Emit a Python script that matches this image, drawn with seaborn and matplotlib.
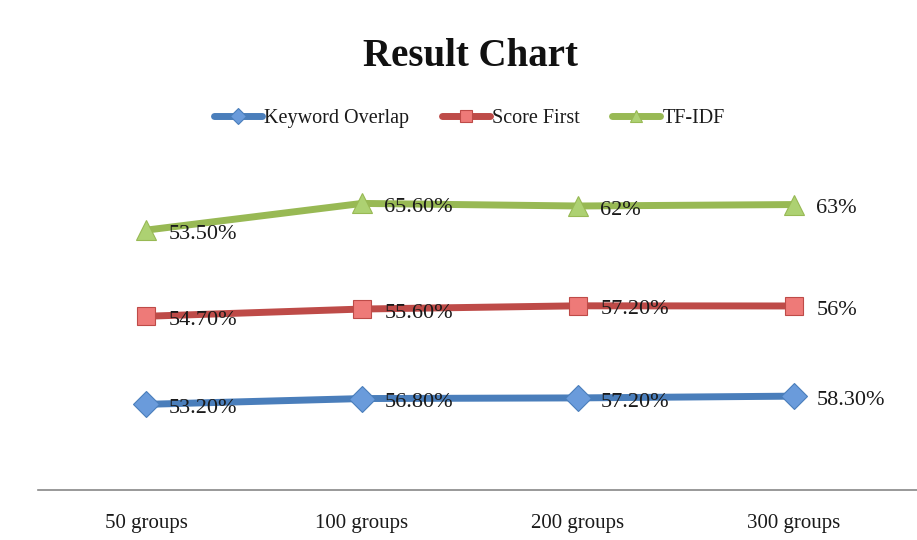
import matplotlib.pyplot as plt
import seaborn as sns
import numpy as np

groups = ["50 groups", "100 groups", "200 groups", "300 groups"]
keyword_overlap = [53.2, 56.8, 57.2, 58.3]
score_first = [54.7, 55.6, 57.2, 56.0]
tf_idf = [53.5, 65.6, 62.0, 63.0]

keyword_labels = ["53.20%", "56.80%", "57.20%", "58.30%"]
score_labels = ["54.70%", "55.60%", "57.20%", "56%"]
tfidf_labels = ["53.50%", "65.60%", "62%", "63%"]


def main():
    sns.set_style("white")
    plt.rcParams['font.family'] = ['Liberation Serif', 'DejaVu Serif']

    fig = plt.figure(figsize=(9.17, 5.4), dpi=100)
    ax = fig.add_axes([38 / 917, 50 / 540, 879 / 917, 322 / 540])

    # stacked line chart: each series sits on top of the previous one
    series = [
        ("Keyword Overlap", keyword_overlap, keyword_labels, "#4A7EBB", "#6A9BDB", "D", 13),
        ("Score First", score_first, score_labels, "#BE4B48", "#EE7A78", "s", 13.5),
        ("TF-IDF", tf_idf, tfidf_labels, "#98B954", "#ADD172", "^", 15),
    ]
    base = np.zeros(len(groups))
    for name, vals, labels, col, fill, mk, ms in series:
        top = base + np.array(vals)
        sns.lineplot(x=groups, y=top, ax=ax, color=col, linewidth=5, sort=False,
                     marker=mk, markersize=ms, markerfacecolor=fill,
                     markeredgecolor=col, markeredgewidth=0.8, label=name)
        for i, lab in enumerate(labels):
            ax.annotate(lab, (i, top[i]), xytext=(16, -3), textcoords="offset points",
                        ha="left", va="center", fontsize=16, color="#1a1a1a")
        base = top

    ax.set_xlim(-0.5, (917 - 146) / 216)
    ax.set_ylim(0, 200)
    ax.set_yticks([])
    ax.set_xlabel("")
    ax.set_ylabel("")
    for s in ["top", "left", "right"]:
        ax.spines[s].set_visible(False)
    ax.spines["bottom"].set_color("#888888")
    ax.spines["bottom"].set_linewidth(1.2)
    ax.tick_params(axis="x", length=0, pad=17, labelsize=15, labelcolor="#1a1a1a")

    leg = ax.legend(loc="center", bbox_to_anchor=(450 / 917, 1.0 + (168 - 118) / 322),
                    ncol=3, frameon=False, fontsize=14.5, handlelength=2.4,
                    handletextpad=0.1, columnspacing=1.6, markerscale=0.6)
    for t in leg.get_texts():
        t.set_color("#1a1a1a")

    fig.text(470 / 917, 1 - 56 / 540, "Result Chart", ha="center", va="center",
             fontsize=28, fontweight="bold", color="#111111")

    fig.savefig("out.png", dpi=100)


if __name__ == "__main__":
    main()
